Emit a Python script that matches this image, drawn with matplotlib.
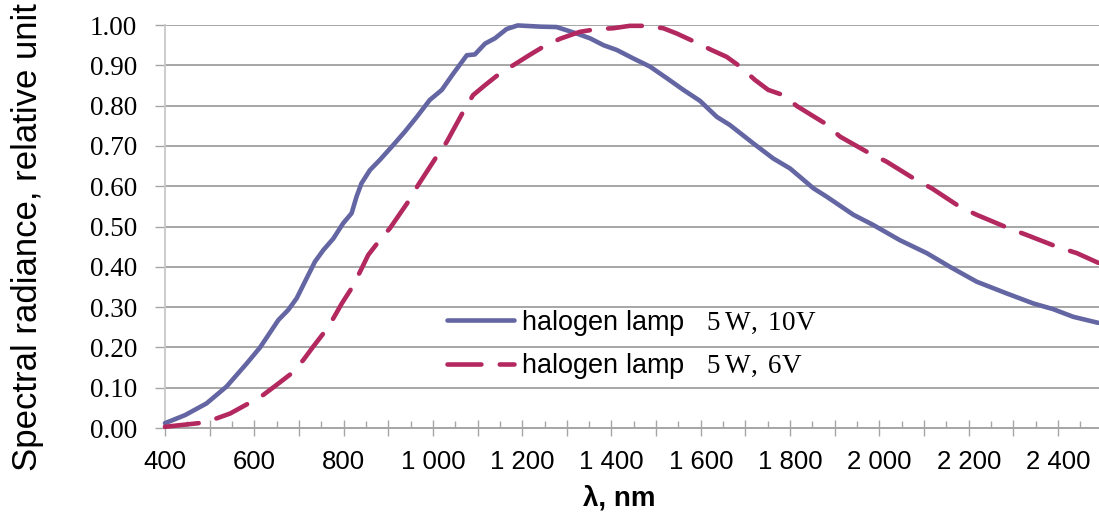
import matplotlib
matplotlib.use("Agg")
import matplotlib.pyplot as plt
from matplotlib.ticker import MultipleLocator, FuncFormatter

plt.rcParams['font.family'] = ['Liberation Sans', 'DejaVu Sans']
plt.rcParams['mathtext.fontset'] = 'custom'
plt.rcParams['mathtext.rm'] = 'Liberation Serif'

# halogen lamp 5W, 10V (solid)
wl_10v = [400, 445, 493, 538, 583, 613, 654, 676, 695, 717, 736, 755, 777, 799, 818,
          829, 840, 859, 881, 911, 937, 964, 993, 1020, 1046, 1076, 1094, 1117, 1139,
          1165, 1190, 1240, 1277, 1322, 1352, 1382, 1412, 1449, 1486, 1524, 1561, 1598,
          1636, 1665, 1718, 1762, 1800, 1852, 1882, 1942, 1986, 2046, 2106, 2158, 2218,
          2285, 2345, 2389, 2434, 2490]
rad_10v = [0.012, 0.032, 0.061, 0.103, 0.16, 0.20, 0.268, 0.293, 0.322, 0.371, 0.413,
           0.442, 0.47, 0.508, 0.533, 0.574, 0.607, 0.64, 0.665, 0.702, 0.735, 0.772,
           0.814, 0.839, 0.88, 0.925, 0.927, 0.954, 0.967, 0.99, 0.999, 0.996, 0.995,
           0.979, 0.967, 0.95, 0.938, 0.917, 0.897, 0.868, 0.839, 0.812, 0.772, 0.752,
           0.706, 0.669, 0.644, 0.595, 0.574, 0.529, 0.504, 0.466, 0.434, 0.40, 0.363,
           0.334, 0.309, 0.295, 0.276, 0.261]

# halogen lamp 5W, 6V (dashed)
wl_6v = [400, 475, 516, 546, 587, 620, 650, 684, 710, 732, 755, 777, 796, 818, 837, 855,
         878, 904, 945, 967, 1008, 1031, 1068, 1090, 1117, 1150, 1184, 1217, 1250, 1285,
         1329, 1367, 1404, 1441, 1475, 1516, 1546, 1587, 1624, 1658, 1688, 1721, 1751,
         1785, 1815, 1878, 1912, 1979, 2016, 2083, 2117, 2180, 2218, 2289, 2330, 2397,
         2442, 2490]
rad_6v = [0.003, 0.012, 0.024, 0.036, 0.061, 0.082, 0.107, 0.136, 0.169, 0.202, 0.235,
          0.272, 0.309, 0.347, 0.388, 0.429, 0.462, 0.496, 0.562, 0.603, 0.673, 0.71,
          0.785, 0.826, 0.851, 0.88, 0.903, 0.926, 0.948, 0.966, 0.983, 0.99, 0.992,
          0.998, 0.998, 0.992, 0.979, 0.958, 0.938, 0.921, 0.897, 0.864, 0.839, 0.826,
          0.799, 0.756, 0.723, 0.681, 0.661, 0.615, 0.595, 0.549, 0.529, 0.496, 0.479,
          0.45, 0.434, 0.41]

labels = ["halogen lamp   $\\mathrm{5\\,W,}\\:\\mathrm{10V}$",
          "halogen lamp   $\\mathrm{5\\,W,}\\:\\mathrm{6V}$"]

grey = '#a6a6a6'

fig = plt.figure(figsize=(10.99, 5.16), dpi=100)
ax = fig.add_axes([0.1501, 0.1705, 0.85, 0.781])

ax.plot(wl_10v, rad_10v, color='#6466a3', lw=3.3, label=labels[0],
        solid_capstyle='round', clip_on=False, zorder=3)
ax.plot(wl_6v, rad_6v, color='#b3285e', lw=3.3, label=labels[1],
        dashes=(7.4, 4.0), dash_capstyle='round', clip_on=False, zorder=3)

ax.set_xlim(400, 2492)
ax.set_ylim(0, 1.0)

# grid and spines
ax.yaxis.set_major_locator(MultipleLocator(0.1))
ax.yaxis.grid(True, color=grey, lw=1.4)
ax.set_axisbelow(True)
for s in ['top', 'right']:
    ax.spines[s].set_visible(False)
ax.spines['left'].set_color('#c8c8c8')
ax.spines['left'].set_linewidth(1.3)
ax.spines['bottom'].set_color(grey)
ax.spines['bottom'].set_linewidth(1.4)

ax.yaxis.set_major_formatter(FuncFormatter(lambda v, p: f"{v:.2f}"))
ax.tick_params(axis='y', length=7.2, width=1.0, color=grey, pad=13, labelsize=19.5)
plt.setp(ax.get_yticklabels(), family='Liberation Serif')

ax.xaxis.set_major_locator(MultipleLocator(100))
ax.xaxis.set_minor_locator(MultipleLocator(50))
ax.xaxis.set_major_formatter(FuncFormatter(
    lambda v, p: f"{int(round(v)):,}".replace(",", " ") if round(v) % 200 == 0 else ""))
ax.tick_params(axis='x', which='major', direction='inout', length=12, width=1.0,
               color=grey, pad=10, labelsize=18.5)
ax.tick_params(axis='x', which='minor', direction='in', length=5, width=1.0, color=grey)

ax.set_ylabel("Spectral radiance, relative unit", fontsize=25)
ax.yaxis.set_label_coords(-0.129, 0.473)
ax.set_xlabel("λ, nm", fontsize=20, fontweight='bold')
ax.xaxis.set_label_coords(0.486, -0.142)

ax.legend(loc='upper left', bbox_to_anchor=(0.29, 0.325), frameon=False,
          fontsize=19.5, handlelength=2.5, handletextpad=0.25, labelspacing=0.5,
          borderaxespad=0)

fig.savefig("out.png", dpi=100)
